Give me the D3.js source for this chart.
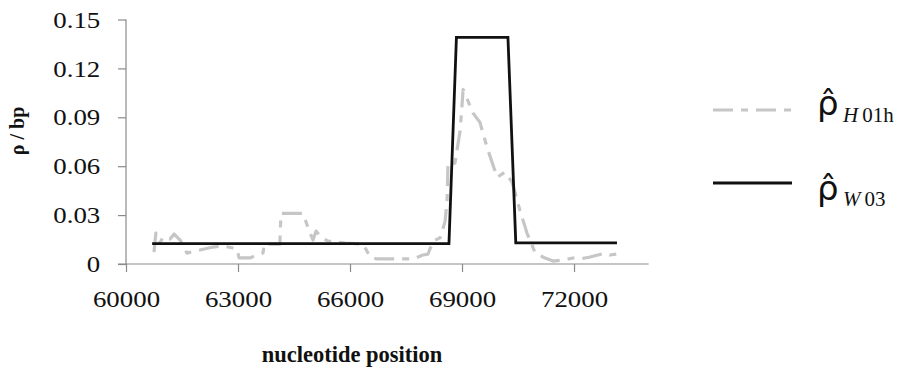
<!DOCTYPE html>
<html>
<head>
<meta charset="utf-8">
<script src="https://cdn.jsdelivr.net/npm/d3@7.9.0/dist/d3.min.js"></script>
<style>
  body { margin: 0; background: #fff; }
  svg { display: block; font-family: "Liberation Serif", "Times New Roman", serif; }
</style>
</head>
<body>
<svg id="chart" width="905" height="374"></svg>
<script>
// ========== Data ==========
const xTicks = [60000, 63000, 66000, 69000, 72000];
const yTicks = [0, 0.03, 0.06, 0.09, 0.12, 0.15];

// rho_H01h (grey, dash-dot)
const h01hPos = [60750, 60800, 60910, 60990, 61180, 61290, 61450, 61630, 61980, 62330, 62600,
  62870, 62970, 63030, 63320, 63510, 63670, 63700, 64120, 64150, 64740, 64930, 65010, 65090,
  65250, 65410, 65870, 66350, 66540, 66720, 67690, 67950, 68090, 68220, 68410, 68545, 68600,
  68625, 68810, 68950, 69030, 69300, 69480, 69670, 69940, 70150, 70340, 70550, 70740, 70960,
  71220, 71440, 71700, 71970, 72160, 72430, 72830, 72960, 73150];
const h01hRho = [0.0073, 0.019, 0.0129, 0.0165, 0.0153, 0.0184, 0.0147, 0.0067, 0.0086, 0.0104, 0.011,
  0.0098, 0.0092, 0.0037, 0.0037, 0.0055, 0.0067, 0.0122, 0.0122, 0.031, 0.031, 0.019, 0.0147, 0.0202,
  0.0159, 0.0141, 0.0129, 0.0122, 0.0043, 0.0031, 0.0031, 0.0055, 0.0061, 0.014, 0.016, 0.026, 0.039,
  0.0618, 0.0618, 0.082, 0.107, 0.0924, 0.0869, 0.0716, 0.0532, 0.0563, 0.0502, 0.033, 0.019, 0.0067,
  0.0037, 0.0018, 0.0024, 0.0037, 0.0031, 0.0043, 0.0067, 0.0055, 0.0061];

// rho_W03 (black, solid)
const w03Pos = [60700, 68650, 68850, 70230, 70440, 73150];
const w03Rho = [0.0125, 0.0125, 0.139, 0.139, 0.013, 0.013];

// ========== Scales ==========
const svg = d3.select('#chart');
const x = d3.scaleLinear().domain([60000, 74000]).range([126, 648.7]);
const y = d3.scaleLinear().domain([0, 0.15]).range([264, 19.5]);
const stretch = 'scale(1.12,1)';

// === Axes ===
const yAxis = svg.append('g')
  .attr('transform', `translate(${x(60000)},0)`)
  .call(d3.axisLeft(y).tickValues(yTicks).tickSize(8).tickPadding(15)
    .tickFormat(d => d === 0 ? '0' : d3.format('.2f')(d)));

const xAxis = svg.append('g')
  .attr('transform', `translate(0,${y(0)})`)
  .call(d3.axisBottom(x).tickValues(xTicks).tickSize(8).tickPadding(18)
    .tickFormat(d3.format('d')));

[yAxis, xAxis].forEach(ax => {
  ax.select('.domain').attr('stroke', '#8a8a8a').attr('stroke-width', 1.2);
  ax.selectAll('.tick line').attr('stroke', '#8a8a8a').attr('stroke-width', 1.2);
  ax.selectAll('.tick text')
    .attr('fill', '#111')
    .style('font-family', '"Liberation Serif", serif')
    .style('font-size', '24px')
    .attr('transform', stretch);
});
// x axis line starts a bit left of the y axis, like the y tick at 0
xAxis.select('.domain').attr('d', `M${x(60000) - 8},0H${x(74000)}`);
yAxis.select('.domain').attr('d', `M0,${y(0.15)}V${y(0)}`);

// === Lines ===
const line = d3.line().x(d => x(d[0])).y(d => y(d[1]));

svg.append('path')
  .datum(h01hPos.map((p, i) => [p, h01hRho[i]]))
  .attr('d', line)
  .attr('fill', 'none')
  .attr('stroke', '#c6c6c6')
  .attr('stroke-width', 3.2)
  .attr('stroke-linejoin', 'round')
  .attr('stroke-dasharray', '20 8 7 8');

svg.append('path')
  .datum(w03Pos.map((p, i) => [p, w03Rho[i]]))
  .attr('d', line)
  .attr('fill', 'none')
  .attr('stroke', '#111')
  .attr('stroke-width', 2.8);

// === Axis titles ===
svg.append('text')
  .attr('transform', 'translate(24,131) rotate(-90)')
  .attr('text-anchor', 'middle')
  .style('font-size', '20px')
  .style('font-weight', 'bold')
  .attr('fill', '#111')
  .text('ρ / bp');

svg.append('text')
  .attr('x', 352).attr('y', 362)
  .attr('text-anchor', 'middle')
  .style('font-size', '22.5px')
  .style('font-weight', 'bold')
  .attr('fill', '#111')
  .text('nucleotide position');

// === Legend ===
const legend = [
  { sub: 'H', num: '01h', color: '#c6c6c6', dash: '20 8 7 8', ly: 110, ty: 115, sy: 122 },
  { sub: 'W', num: '03', color: '#111', dash: null, ly: 183, ty: 200, sy: 206 },
];
legend.forEach(d => {
  svg.append('line')
    .attr('x1', 713).attr('x2', 792)
    .attr('y1', d.ly).attr('y2', d.ly)
    .attr('stroke', d.color)
    .attr('stroke-width', 3)
    .attr('stroke-dasharray', d.dash);
  // rho with combining circumflex, then the subscript
  const t = svg.append('text').attr('fill', '#111');
  t.append('tspan')
    .attr('x', 817).attr('y', d.ty)
    .style('font-family', '"DejaVu Sans", sans-serif')
    .style('font-size', '34px')
    .text('ρ\u0302');
  t.append('tspan')
    .attr('x', 843).attr('y', d.sy)
    .style('font-size', '21px')
    .style('font-style', 'italic')
    .text(d.sub);
  t.append('tspan')
    .attr('dx', 4)
    .style('font-size', '21px')
    .text(d.num);
});
</script>
</body>
</html>
